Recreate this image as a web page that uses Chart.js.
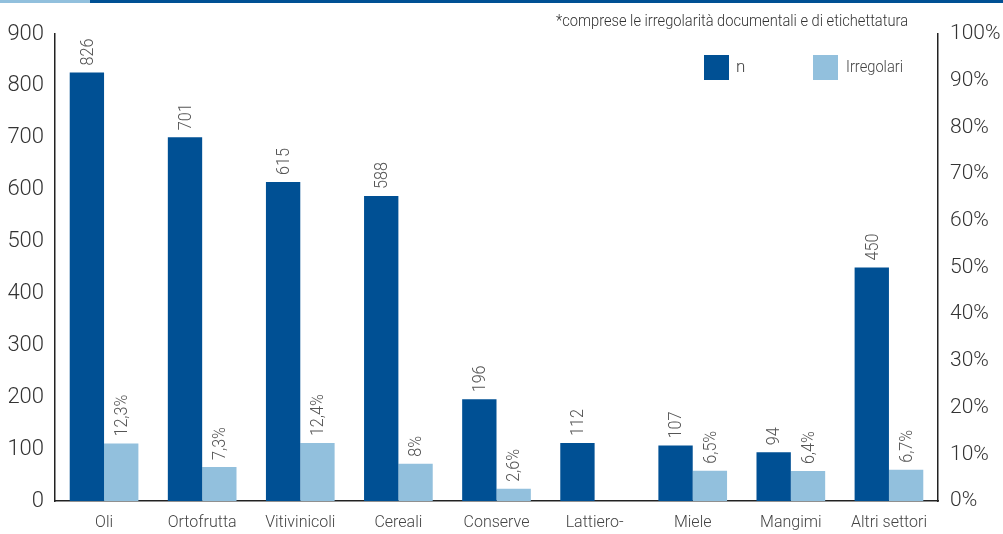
<!DOCTYPE html>
<html>
<head>
<meta charset="utf-8">
<script src="https://cdn.jsdelivr.net/npm/chart.js@4"></script>
<style>
  html, body { margin: 0; padding: 0; background: #fff; }
  #wrap { width: 1003px; height: 534px; position: relative; }
</style>
</head>
<body>
<div id="wrap"><canvas id="grafico"></canvas></div>
<script>
// dati
const categorie = ['Oli', 'Ortofrutta', 'Vitivinicoli', 'Cereali', 'Conserve', 'Lattiero-', 'Miele', 'Mangimi', 'Altri settori'];
const valoriN = [826, 701, 615, 588, 196, 112, 107, 94, 450];
const valoriIrregolari = [12.3, 7.3, 12.4, 8, 2.6, null, 6.5, 6.4, 6.7];
const nota = '*comprese le irregolarità documentali e di etichettatura';

const FONT = "Roboto, 'Liberation Sans', sans-serif";
const BLU = '#005094';
const AZZURRO = '#92C0DD';

// etichette ruotate sopra le barre + legenda + nota
const etichette = {
    id: 'etichette',
    afterDatasetsDraw(chart) {
        const ctx = chart.ctx;
        ctx.save();
        ctx.fillStyle = '#555';
        ctx.font = '300 19px ' + FONT;
        chart.data.datasets.forEach((ds, i) => {
            const meta = chart.getDatasetMeta(i);
            meta.data.forEach((bar, j) => {
                const v = ds.data[j];
                if (v === null) return;
                const testo = i === 0 ? String(v) : String(v).replace('.', ',') + '%';
                ctx.save();
                ctx.translate(bar.x + 1, bar.y - 7);
                ctx.rotate(-Math.PI / 2);
                ctx.scale(0.85, 1);
                ctx.textAlign = 'left';
                ctx.textBaseline = 'middle';
                ctx.fillText(testo, 0, 0);
                ctx.restore();
            });
        });
        ctx.restore();
    },
    afterDraw(chart) {
        const ctx = chart.ctx;
        ctx.save();
        // linea in alto
        ctx.fillStyle = AZZURRO;
        ctx.fillRect(0, 0, 90, 3);
        ctx.fillStyle = BLU;
        ctx.fillRect(90, 0, 913, 3);
        // nota
        ctx.fillStyle = '#333';
        ctx.font = '300 16px ' + FONT;
        ctx.textBaseline = 'middle';
        ctx.textAlign = 'left';
        ctx.fillText(nota, 556, 22, 352);
        // legenda
        ctx.fillStyle = BLU;
        ctx.fillRect(704, 55, 25, 25);
        ctx.fillStyle = AZZURRO;
        ctx.fillRect(813, 55, 25, 25);
        ctx.fillStyle = '#444';
        ctx.font = '300 17px ' + FONT;
        ctx.fillText(chart.data.datasets[0].label, 736, 68, 10);
        ctx.fillText(chart.data.datasets[1].label, 846, 68, 57);
        ctx.restore();
    }
};

new Chart(document.getElementById('grafico'), {
    type: 'bar',
    data: {
        labels: categorie,
        datasets: [
            {
                label: 'n',
                data: valoriN,
                backgroundColor: BLU,
                yAxisID: 'y'
            },
            {
                label: 'Irregolari',
                data: valoriIrregolari,
                backgroundColor: AZZURRO,
                yAxisID: 'y1'
            }
        ]
    },
    options: {
        responsive: true,
        maintainAspectRatio: false,
        animation: false,
        layout: { padding: { top: 34, right: 0, left: 0, bottom: 0 } },
        plugins: {
            legend: { display: false },
            tooltip: { enabled: false }
        },
        datasets: {
            bar: { categoryPercentage: 0.7, barPercentage: 1 }
        },
        scales: {
            x: {
                grid: { display: false, drawTicks: false },
                border: { display: true, color: '#222', width: 1.5 },
                ticks: { color: '#444', font: { family: FONT, size: 16, weight: 300 }, padding: 12, maxRotation: 0 },
                afterFit(s) { s.height = 33; }
            },
            y: {
                position: 'left',
                min: 0,
                max: 900,
                grid: { display: false, drawTicks: false },
                border: { display: true, color: '#222', width: 1.5 },
                ticks: { stepSize: 100, color: '#333', font: { family: FONT, size: 22, weight: 300 }, padding: 11 },
                afterFit(s) { s.width = 55; }
            },
            y1: {
                position: 'right',
                min: 0,
                max: 100,
                grid: { display: false, drawTicks: false },
                border: { display: true, color: '#222', width: 1.5 },
                ticks: {
                    stepSize: 10,
                    color: '#333',
                    font: { family: FONT, size: 21, weight: 300 },
                    padding: 12,
                    callback: v => v + '%'
                },
                afterFit(s) { s.width = 65; }
            }
        }
    },
    plugins: [etichette]
});
</script>
</body>
</html>
